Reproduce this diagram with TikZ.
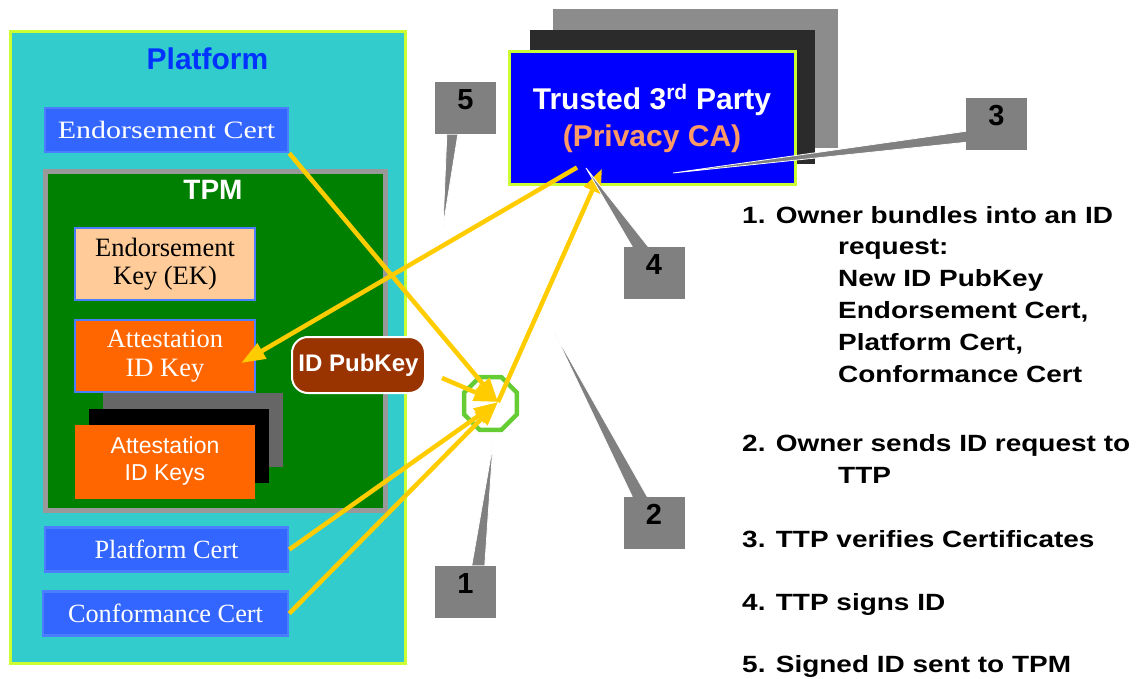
\documentclass[tikz,border=0pt]{standalone}
\usepackage{fontspec}
\setmainfont{Liberation Sans}
\newfontfamily\serifface{Liberation Serif}
\newfontfamily\wideserif{Liberation Serif}[FakeStretch=1.2]
\newfontfamily\widesans{Liberation Sans}[FakeStretch=1.19]
\usetikzlibrary{arrows.meta,calc,shapes.geometric}
\definecolor{platcyan}{HTML}{33CCCC}
\definecolor{limeedge}{HTML}{CCFF33}
\definecolor{platformblue}{HTML}{0033FF}
\definecolor{certblue}{HTML}{3366FF}
\definecolor{certedge}{HTML}{4A7DFF}
\definecolor{tpmgreen}{HTML}{008000}
\definecolor{tpmgray}{HTML}{999999}
\definecolor{ekpeach}{HTML}{FFCC99}
\definecolor{aikorange}{HTML}{FF6600}
\definecolor{stackgray}{HTML}{666666}
\definecolor{pubkeybrown}{HTML}{993300}
\definecolor{octgreen}{HTML}{66CC33}
\definecolor{shadowgray}{HTML}{8C8C8C}
\definecolor{shadowdark}{HTML}{2B2B2B}
\definecolor{ttpblue}{HTML}{0000FF}
\definecolor{privacy}{HTML}{FF9966}
\definecolor{calloutgray}{HTML}{808080}
\definecolor{arrowyellow}{HTML}{FFCC00}
\tikzset{
  platformbox/.style={
    rectangle,
    draw=limeedge,
    line width=3pt,
    fill=platcyan,
    minimum width=395pt,
    minimum height=631pt,
    inner sep=0pt
  },
  tpmbox/.style={
    rectangle,
    draw=tpmgray,
    line width=5pt,
    fill=tpmgreen,
    minimum width=340pt,
    minimum height=338pt,
    inner sep=0pt
  },
  title/.style={
    anchor=base,
    inner sep=0pt,
    font=\bfseries\fontsize{30}{36}\selectfont
  },
  cert/.style={
    rectangle,
    draw=certedge,
    line width=2.5pt,
    fill=certblue,
    text=white,
    font=\serifface\fontsize{26.3}{29}\selectfont,
    minimum width=243pt,
    minimum height=44pt,
    inner sep=0pt
  },
  keybox/.style={
    rectangle,
    draw=certedge,
    line width=2.5pt,
    align=center,
    font=\serifface\fontsize{26.5}{28.5}\selectfont,
    minimum width=180pt,
    minimum height=72pt,
    inner sep=0pt
  },
  stackbox/.style={
    rectangle,
    minimum width=180pt,
    minimum height=74pt,
    inner sep=0pt
  },
  pubkeybox/.style={
    rectangle,
    rounded corners=16pt,
    draw=white,
    line width=2pt,
    fill=pubkeybrown,
    text=white,
    font=\bfseries\fontsize{24}{28}\selectfont,
    minimum width=133pt,
    minimum height=56pt,
    inner sep=0pt
  },
  octagon/.style={
    regular polygon,
    regular polygon sides=8,
    draw=octgreen,
    line width=4.5pt,
    minimum size=57pt,
    inner sep=0pt
  },
  ttpshadow/.style={
    rectangle,
    minimum width=285pt,
    minimum height=139pt,
    inner sep=0pt
  },
  ttpbox/.style={
    rectangle,
    draw=limeedge,
    line width=3pt,
    fill=ttpblue,
    text=white,
    align=center,
    font=\bfseries\fontsize{30}{37}\selectfont,
    minimum width=286pt,
    minimum height=133pt,
    inner sep=0pt
  },
  callout/.style={
    rectangle,
    fill=calloutgray,
    minimum width=61pt,
    minimum height=52pt,
    inner sep=0pt,
    text height=21pt,
    text depth=18pt,
    font=\bfseries\fontsize{29}{34}\selectfont
  },
  pointer/.style={
    fill=calloutgray,
    draw=white,
    line width=0.8pt
  },
  yarrow/.style={
    -{Triangle[length=24pt,width=17pt]},
    draw=arrowyellow,
    line width=4.5pt
  },
  listitem/.style={
    anchor=base west,
    align=left,
    inner sep=0pt,
    font=\widesans\bfseries\fontsize{23.5}{31.8}\selectfont
  }
}

\begin{document}
\begin{tikzpicture}[x=1pt,y=-1pt]
  \useasboundingbox (0,0) rectangle (1136,679);

  \node[platformbox] (platform) at (207.5,347.5) {};
  \node[title, text=platformblue] (platformlabel) at (207.5,70) {Platform};
  \node[cert, font=\wideserif\fontsize{25}{28}\selectfont] (ekcert) at (166.5,130) {Endorsement Cert};
  \node[tpmbox] (tpm) at (215,341) {};
  \node[title, text=white, font=\bfseries\fontsize{28}{34}\selectfont] (tpmlabel) at (213,200) {TPM};
  \node[keybox, fill=ekpeach] (ek) at (165,264) {Endorsement\\Key (EK)};
  \node[keybox, fill=aikorange, text=white] (aik) at (165,356) {Attestation\\ID Key};
  \node[stackbox, fill=stackgray] (aikback) at (193,430) {};
  \node[stackbox, fill=black] (aikmid) at (178.5,446) {};
  \node[stackbox, fill=aikorange, text=white, align=center, font=\fontsize{23}{27}\selectfont] (aiks) at (165,461.5) {Attestation\\ID Keys};
  \node[cert] (platcert) at (166.5,549.5) {Platform Cert};
  \node[cert, minimum width=245pt] (confcert) at (165.5,613.5) {Conformance Cert};

  \node[pubkeybox] (pubkey) at (358.5,365) {ID PubKey};
  \node[octagon] (bundle) at (490.5,403.5) {};

  \node[ttpshadow, fill=shadowgray] (ttpback) at (695.5,78.5) {};
  \node[ttpshadow, fill=shadowdark, minimum height=134pt] (ttpmid) at (672.5,97) {};
  \node[ttpbox] (ttp) at (652,118.5) {Trusted 3\textsuperscript{rd} Party\\\textcolor{privacy}{(Privacy CA)}};

  \coordinate (hub) at (498,402);
  \draw[yarrow] (ekcert.south east) -- (hub);
  \draw[yarrow] ([xshift=16pt,yshift=-13pt]pubkey.east) -- (hub);
  \draw[yarrow] (platcert.east) -- (hub);
  \draw[yarrow] (confcert.east) -- (hub);
  \draw[yarrow] (hub) -- ([xshift=-50pt,yshift=18pt]ttp.south);
  \draw[yarrow] ([xshift=-75pt,yshift=19pt]ttp.south) -- ([xshift=-15pt,yshift=-7pt]aik.east);

  \node[callout] (c5) at (465.5,108.5) {5};
  \node[callout] (c3) at (996.5,124.5) {3};
  \node[callout] (c4) at (654,273) {4};
  \node[callout] (c2) at (654,523) {2};
  \node[callout] (c1) at (465.5,591.5) {1};
  \coordinate (tip5) at (443,227);
  \coordinate (tip3) at (673,173);
  \coordinate (tip4) at (586,168);
  \coordinate (tip2) at (554,332);
  \coordinate (tip1) at (493,444);
  \filldraw[pointer] ([xshift=12pt]c5.south west) -- (tip5) -- ([xshift=23pt]c5.south west);
  \filldraw[pointer] ([yshift=-33pt]c3.north west) -- (tip3) -- ([yshift=-44pt]c3.north west);
  \filldraw[pointer] ([xshift=9pt]c4.north west) -- (tip4) -- ([xshift=25pt]c4.north west);
  \filldraw[pointer] ([xshift=9pt]c2.north west) -- (tip2) -- ([xshift=24pt]c2.north west);
  \filldraw[pointer] ([xshift=37pt]c1.north west) -- (tip1) -- ([xshift=50pt]c1.north west);

  \node[listitem] (item1) at (742,382) {1. Owner bundles into an ID\\\hspace*{96pt}request:\\\hspace*{96pt}New ID PubKey\\\hspace*{96pt}Endorsement Cert,\\\hspace*{96pt}Platform Cert,\\\hspace*{96pt}Conformance Cert};
  \node[listitem] (item2) at (742,483) {2. Owner sends ID request to\\\hspace*{96pt}TTP};
  \node[listitem] (item3) at (742,547) {3. TTP verifies Certificates};
  \node[listitem] (item4) at (742,610) {4. TTP signs ID};
  \node[listitem] (item5) at (742,672) {5. Signed ID sent to TPM};
\end{tikzpicture}
\end{document}
